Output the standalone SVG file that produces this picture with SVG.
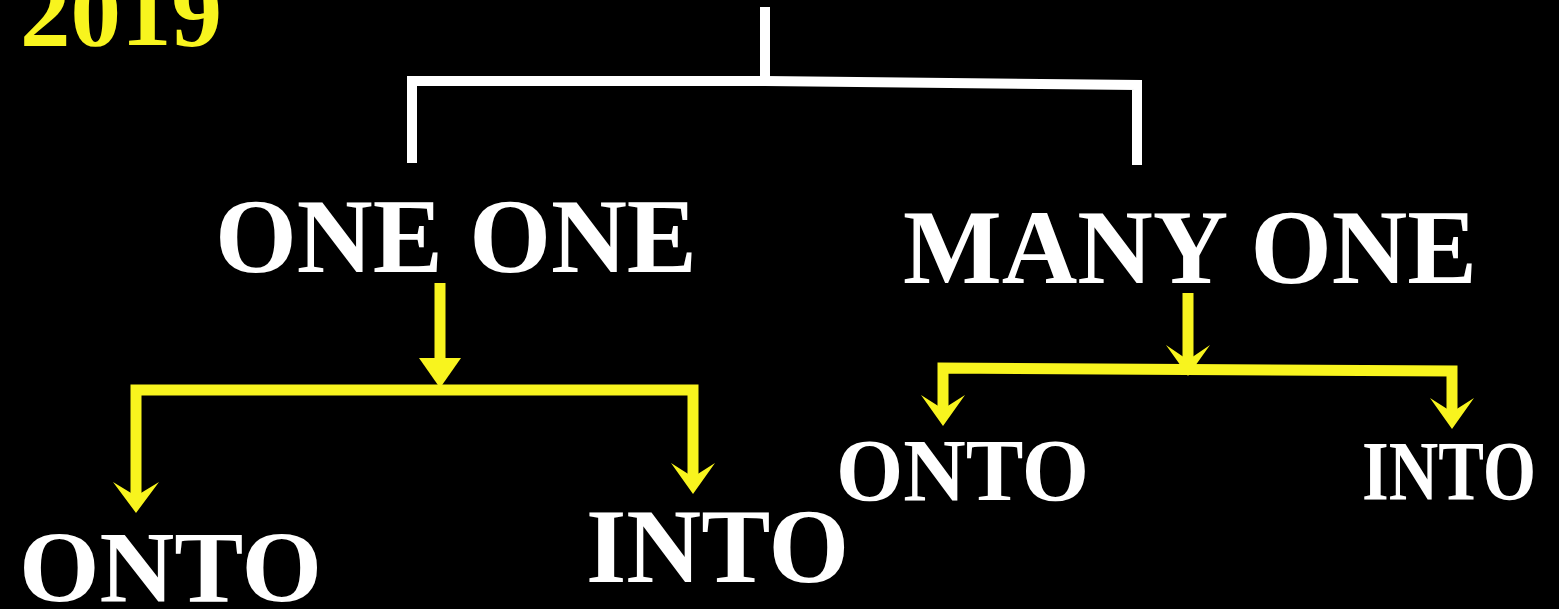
<svg xmlns="http://www.w3.org/2000/svg" width="1559" height="609" viewBox="0 0 1559 609">
<style>
text{font-family:'Liberation Serif',serif;font-weight:700}
.lbl{fill:#ffffff}
.yr{fill:#f8f41e}
.w{fill:none;stroke:#ffffff;stroke-width:10;stroke-linejoin:miter}
.y{fill:none;stroke:#f8f41e;stroke-width:11;stroke-linejoin:miter}
.ah{fill:#f8f41e}
</style>
<rect x="0" y="0" width="1559" height="609" fill="#000000"/>
<g id="year"><text class="yr" x="20" y="45" font-size="100" textLength="202" lengthAdjust="spacingAndGlyphs">2019</text></g>
<g id="connectors">
<line class="w" x1="765" y1="7" x2="765" y2="82"/>
<polyline class="w" points="412,163 412,81 765,81 1137,85 1137,165"/>
<line class="y" x1="440" y1="283" x2="440" y2="362"/>
<polygon class="ah" points="419,358 461,358 440,388"/>
<polyline class="y" points="136,497 136,390 693,390 693,478"/>
<polygon class="ah" points="113,482 136,496 159,482 136,513"/>
<polygon class="ah" points="671,463 693,477 715,463 693,494"/>
<line class="y" x1="1188" y1="293" x2="1188" y2="362"/>
<polygon class="ah" points="1166,345 1188,360 1210,345 1188,376"/>
<polyline class="y" points="943,410 943,368 1452,371 1452,413"/>
<polygon class="ah" points="921,395 943,409 965,395 943,426"/>
<polygon class="ah" points="1430,398 1452,412 1474,398 1452,429"/>
</g>
<g id="node-one-one"><text class="lbl" x="215" y="272" font-size="106" textLength="482" lengthAdjust="spacingAndGlyphs">ONE ONE</text></g>
<g id="node-many-one"><text class="lbl" x="903" y="283" font-size="106" textLength="574" lengthAdjust="spacingAndGlyphs">MANY ONE</text></g>
<g id="node-onto-left"><text class="lbl" x="19" y="602" font-size="101" textLength="303" lengthAdjust="spacingAndGlyphs">ONTO</text></g>
<g id="node-into-left"><text class="lbl" x="586" y="582" font-size="105" textLength="263" lengthAdjust="spacingAndGlyphs">INTO</text></g>
<g id="node-onto-right"><text class="lbl" x="836" y="500" font-size="89" textLength="253" lengthAdjust="spacingAndGlyphs">ONTO</text></g>
<g id="node-into-right"><text class="lbl" x="1362" y="500" font-size="84" textLength="174" lengthAdjust="spacingAndGlyphs">INTO</text></g>
</svg>
